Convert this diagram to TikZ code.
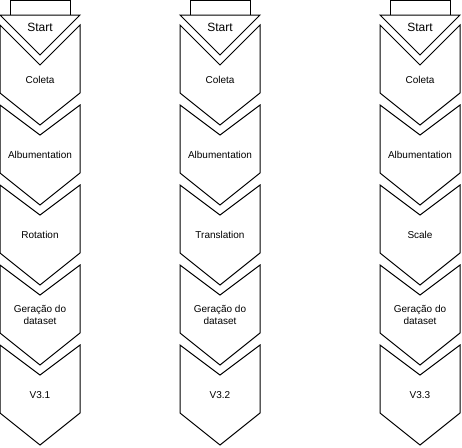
\documentclass[tikz,border=0pt]{standalone}
\usepackage{fontspec}
\setmainfont{Liberation Sans}

\begin{document}
\begin{tikzpicture}[x=1pt, y=-1pt,
        chev/.style={draw, line width=1pt, fill=white, line join=miter},
        lbl/.style={font=\fontsize{10}{12}\selectfont, align=center, inner sep=0pt}]
  \useasboundingbox (0,0) rectangle (462,447);

  \foreach \cx/\col/\aug/\ver in {0/a/Rotation/V3.1, 180/b/Translation/V3.2, 380/c/Scale/V3.3} {
    \begin{scope}[xshift=\cx]
      \draw[chev] (10,0) rectangle (70,15);
      \draw[chev] (0,15) -- (80,15) -- (40,55) -- cycle;
      \draw[chev] (0,25) -- (40,65) -- (80,25) -- (80,93) -- (40,125) -- (0,93) -- cycle;
      \foreach \t in {105,185,265,345}
        \draw[chev] (0,\t) -- (40,\t+30) -- (80,\t) -- (80,\t+68) -- (40,\t+100) -- (0,\t+68) -- cycle;

      \node[lbl, font=\fontsize{12}{14}\selectfont] (\col-start) at (40,27) {Start};
      \node[lbl] (\col-coleta) at (40,80) {Coleta};
      \node[lbl] (\col-album) at (40,155) {Albumentation};
      \node[lbl] (\col-aug) at (40,235) {\aug};
      \node[lbl] (\col-gen) at (40,315) {Geração do\\dataset};
      \node[lbl] (\col-ver) at (40,395) {\ver};
    \end{scope}
  }
\end{tikzpicture}
\end{document}
